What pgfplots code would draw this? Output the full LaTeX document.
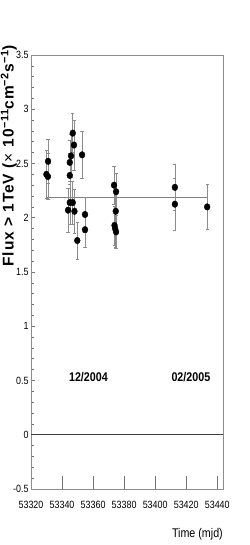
\documentclass[border=0pt]{standalone}
\usepackage{fontspec}
\setmainfont{Liberation Sans}
\newfontfamily\narrowfont[FakeStretch=0.85]{Liberation Sans}
\newfontfamily\ylabfont[LetterSpace=6,BoldFeatures={LetterSpace=6}]{Liberation Sans}
\usepackage{pgfplots}
\pgfplotsset{compat=1.18}
\usepackage{pgfplotstable}
\pgfplotstableread{
x y ey
53329.9 2.40 0.22
53330.9 2.38 0.21
53331.0 2.52 0.20
53343.9 2.07 0.20
53345.0 2.14 0.20
53345.0 2.39 0.20
53345.0 2.51 0.20
53345.8 2.57 0.20
53346.9 2.78 0.18
53346.9 2.14 0.20
53347.7 2.67 0.23
53348.0 2.06 0.20
53349.8 1.79 0.17
53352.9 2.58 0.22
53354.8 2.03 0.16
53354.8 1.89 0.16
53373.5 2.30 0.175
53374.8 2.24 0.17
53374.6 2.06 0.18
53373.8 1.93 0.18
53374.2 1.90 0.17
53374.8 1.87 0.15
53412.7 2.28 0.21
53412.7 2.125 0.24
53433.5 2.10 0.21
}\fluxdata
\begin{document}
\begin{tikzpicture}
\useasboundingbox (0pt,0pt) rectangle (249pt,545pt);
\begin{axis}[
  at={(31pt,56pt)}, anchor=south west,
  scale only axis, width=192pt, height=434pt,
  xmin=53320, xmax=53443.7, ymin=-0.5, ymax=3.5,
  xtick={53320,53340,...,53440},
  ytick={-0.5,0,0.5,1,1.5,2,2.5,3,3.5},
  minor x tick num=3, minor y tick num=4,
  scaled x ticks=false,
  xticklabel={\pgfmathprintnumber[fixed,precision=0,set thousands separator={}]{\tick}},
  tick align=inside,
  xtick pos=lower, ytick pos=left,
  axis line style={draw=black!45, line width=0.8pt},
  every tick/.style={black!55, line width=0.6pt},
  xtick style={/pgfplots/major tick length=12.5pt,/pgfplots/minor tick length=6pt},
  ytick style={/pgfplots/major tick length=4.5pt,/pgfplots/minor tick length=2.5pt},
  /pgf/number format/assume math mode=true,
  /pgf/number format/set thousands separator={},
  xticklabel style={font=\narrowfont\fontsize{10.5}{11}\selectfont, yshift=-9pt},
  yticklabel style={font=\narrowfont\fontsize{10.5}{11}\selectfont, xshift=1pt},
  clip=false,
]
\addplot[black!75, line width=0.8pt] coordinates {(53320,0) (53443.7,0)};
\addplot[black!50, line width=1.2pt] coordinates {(53329.9,2.183) (53433.5,2.183)};
\addplot[only marks, mark=*, mark size=3.3pt, mark options={black, xscale=0.88},
  error bars/.cd, y dir=both, y explicit,
  error bar style={black!45, line width=0.6pt},
  error mark options={rotate=90, mark size=1.6pt, black!45, line width=0.6pt}]
  table[x=x, y=y, y error=ey] {\fluxdata};
\node[font=\narrowfont\bfseries\fontsize{12.6}{13}\selectfont] at (axis cs:53357,0.535) {12/2004};
\node[font=\narrowfont\bfseries\fontsize{12.6}{13}\selectfont] at (axis cs:53423,0.535) {02/2005};
\end{axis}
\node[anchor=base east, inner sep=0pt, rotate=90, font=\ylabfont\bfseries\fontsize{15.5}{16}\selectfont] at (13.5pt,500pt) {Flux > 1TeV (\textmd{×} 10\textsuperscript{−11}cm\textsuperscript{−2}s\textsuperscript{−1})};
\node[anchor=east, inner sep=0pt, font=\narrowfont\fontsize{12.6}{13}\selectfont] at (223pt,11pt) {Time (mjd)};
\end{tikzpicture}
\end{document}
